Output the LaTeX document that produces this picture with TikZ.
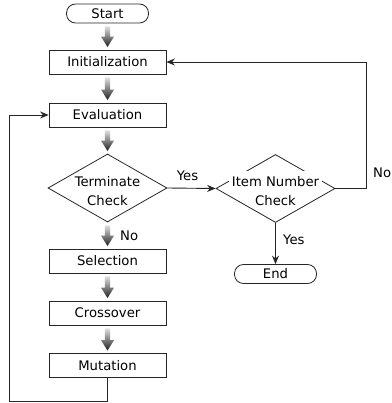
\documentclass[tikz,border=0pt]{standalone}
\usepackage{fontspec}
\setmainfont{DejaVu Sans}
\usetikzlibrary{shapes.geometric,calc,arrows.meta}
\newcommand\mfont{\fontsize{13.2}{19}\selectfont}
\newcommand\garr[2]{%
  \shade[top color=black!12, bottom color=black!88]
    ($(#1.south)+(-2.6,3)$) -- ($(#1.south)+(2.6,3)$) --
    ($(#2.north)+(2.6,-13)$) -- ($(#2.north)+(6.5,-13)$) --
    ($(#2.north)+(0,-2.5)$) -- ($(#2.north)+(-6.5,-13)$) --
    ($(#2.north)+(-2.6,-13)$) -- cycle;}
\tikzset{
  box/.style={draw=black!85, line width=0.8pt, minimum width=117pt, minimum height=24pt, inner sep=0pt, font=\mfont},
  term/.style={draw=black!85, line width=0.8pt, rounded corners=9pt, minimum width=82pt, minimum height=19pt, inner sep=0pt, font=\mfont},
  dia/.style={draw=black!85, line width=0.8pt, diamond, minimum width=119pt, minimum height=68pt, inner sep=0pt},
  txt/.style={font=\mfont, inner sep=0pt, align=center},
  arr/.style={draw=black!85, line width=0.9pt, -{Stealth[length=8.5pt,width=7pt]}},
}
\begin{document}
\begin{tikzpicture}[x=1pt,y=-1pt]
\useasboundingbox (0,0) rectangle (391,403);
\node[term] (start) at (107.5,13.5) {Start};
\node[box] (init) at (107.5,62) {Initialization};
\node[box] (eval) at (107.5,115) {Evaluation};
\node[dia] (tc) at (107.5,188) {};
\node[txt] (tct) at (107.5,191) {Terminate\\Check};
\node[box] (sel) at (107.5,261) {Selection};
\node[box] (cro) at (107.5,313) {Crossover};
\node[box] (mut) at (107.5,365.5) {Mutation};
\node[dia] (ic) at (275.5,188.5) {};
\node[txt, fill=white, inner xsep=3pt, inner ysep=6pt] (ict1) at (275.5,182) {Item Number};
\node[txt] (ict2) at (275.5,201) {Check};
\node[term] (end) at (275.5,274) {End};

\garr{start}{init}
\garr{init}{eval}
\garr{eval}{tc}
\garr{tc}{sel}
\garr{sel}{cro}
\garr{cro}{mut}

\node[txt, anchor=west] (no1) at (120,236) {No};
\draw[arr] (tc.east) -- (ic.west);
\node[txt] (yes1) at (187.5,176) {Yes};
\coordinate (nr) at (366.5,188.5);
\draw[arr] (ic.east) -- (nr) |- (init.east);
\node[txt, anchor=west] (no2) at (373,173) {No};
\draw[arr] (ic.south) -- (end.north);
\node[txt, anchor=west] (yes2) at (283,240) {Yes};
\coordinate (lb) at (9,401.5);
\draw[arr] (mut.south) |- (lb) |- (eval.west);
\end{tikzpicture}
\end{document}
